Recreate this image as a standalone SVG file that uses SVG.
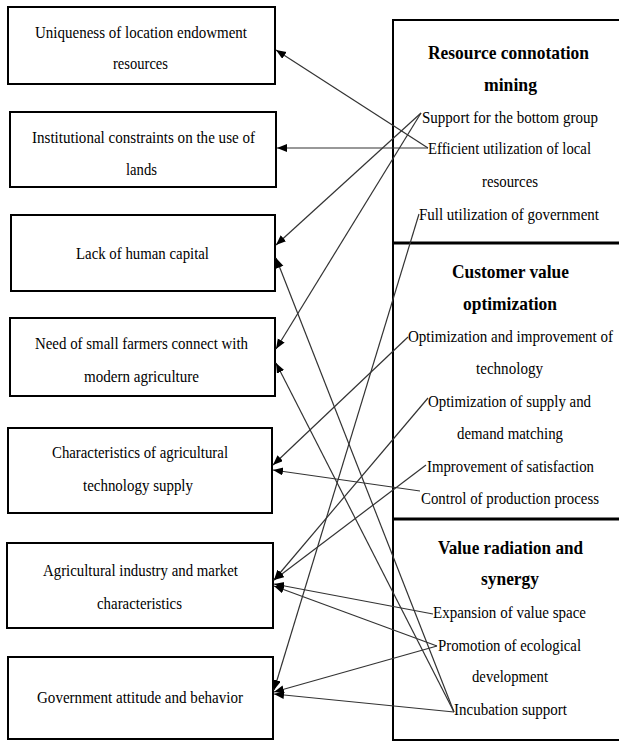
<svg xmlns="http://www.w3.org/2000/svg" width="619" height="742" viewBox="0 0 619 742">
<style>
.box{fill:#fff;stroke:#000;stroke-width:2}
.t{font-family:"Liberation Serif","Times New Roman",serif;font-size:17px;fill:#000}
.h{font-family:"Liberation Serif","Times New Roman",serif;font-size:19px;font-weight:bold;fill:#000}
.c{stroke:#333;stroke-width:1.2;fill:none;marker-end:url(#ah)}
.div{stroke:#000;stroke-width:3}
</style>
<defs>
<marker id="ah" markerUnits="userSpaceOnUse" markerWidth="11" markerHeight="9" refX="10" refY="4" orient="auto">
<path d="M0,0 L10,4 L0,8 z" fill="#000"/>
</marker>
</defs>
<rect width="619" height="742" fill="#fff"/>

<g id="left1"><rect class="box" x="8" y="7" width="267" height="77"/>
<text class="t" x="35" y="38" textLength="212" lengthAdjust="spacingAndGlyphs">Uniqueness of location endowment</text>
<text class="t" x="113" y="69" textLength="55" lengthAdjust="spacingAndGlyphs">resources</text></g>

<g id="left2"><rect class="box" x="10" y="112" width="266" height="75"/>
<text class="t" x="32" y="143" textLength="223" lengthAdjust="spacingAndGlyphs">Institutional constraints on the use of</text>
<text class="t" x="126" y="175" textLength="31" lengthAdjust="spacingAndGlyphs">lands</text></g>

<g id="left3"><rect class="box" x="11" y="215" width="264" height="76"/>
<text class="t" x="76" y="259" textLength="133" lengthAdjust="spacingAndGlyphs">Lack of human capital</text></g>

<g id="left4"><rect class="box" x="10" y="318" width="265" height="78"/>
<text class="t" x="35" y="349" textLength="213" lengthAdjust="spacingAndGlyphs">Need of small farmers connect with</text>
<text class="t" x="84" y="382" textLength="115" lengthAdjust="spacingAndGlyphs">modern agriculture</text></g>

<g id="left5"><rect class="box" x="8" y="428" width="264" height="85"/>
<text class="t" x="52" y="458" textLength="176" lengthAdjust="spacingAndGlyphs">Characteristics of agricultural</text>
<text class="t" x="83" y="491" textLength="110" lengthAdjust="spacingAndGlyphs">technology supply</text></g>

<g id="left6"><rect class="box" x="7" y="543" width="266" height="85"/>
<text class="t" x="43" y="576" textLength="195" lengthAdjust="spacingAndGlyphs">Agricultural industry and market</text>
<text class="t" x="97" y="609" textLength="85" lengthAdjust="spacingAndGlyphs">characteristics</text></g>

<g id="left7"><rect class="box" x="8" y="657" width="265" height="82"/>
<text class="t" x="37" y="703" textLength="206" lengthAdjust="spacingAndGlyphs">Government attitude and behavior</text></g>

<g id="right-panel">
<rect class="box" x="393" y="20" width="235" height="720"/>
<line class="div" x1="393" y1="243" x2="619" y2="243"/>
<line class="div" x1="393" y1="519" x2="619" y2="519"/>
</g>

<g id="right1">
<text class="h" x="428" y="59" textLength="161" lengthAdjust="spacingAndGlyphs">Resource connotation</text>
<text class="h" x="484" y="91" textLength="53" lengthAdjust="spacingAndGlyphs">mining</text>
<text class="t" x="422" y="123" textLength="176" lengthAdjust="spacingAndGlyphs">Support for the bottom group</text>
<text class="t" x="428" y="154" textLength="163" lengthAdjust="spacingAndGlyphs">Efficient utilization of local</text>
<text class="t" x="482" y="187" textLength="56" lengthAdjust="spacingAndGlyphs">resources</text>
<text class="t" x="419" y="220" textLength="180" lengthAdjust="spacingAndGlyphs">Full utilization of government</text>
</g>

<g id="right2">
<text class="h" x="452" y="278" textLength="117" lengthAdjust="spacingAndGlyphs">Customer value</text>
<text class="h" x="463" y="310" textLength="94" lengthAdjust="spacingAndGlyphs">optimization</text>
<text class="t" x="408" y="342" textLength="205" lengthAdjust="spacingAndGlyphs">Optimization and improvement of</text>
<text class="t" x="476" y="374" textLength="67" lengthAdjust="spacingAndGlyphs">technology</text>
<text class="t" x="428" y="407" textLength="163" lengthAdjust="spacingAndGlyphs">Optimization of supply and</text>
<text class="t" x="457" y="439" textLength="106" lengthAdjust="spacingAndGlyphs">demand matching</text>
<text class="t" x="427" y="472" textLength="167" lengthAdjust="spacingAndGlyphs">Improvement of satisfaction</text>
<text class="t" x="421" y="504" textLength="178" lengthAdjust="spacingAndGlyphs">Control of production process</text>
</g>

<g id="right3">
<text class="h" x="438" y="554" textLength="145" lengthAdjust="spacingAndGlyphs">Value radiation and</text>
<text class="h" x="481" y="585" textLength="58" lengthAdjust="spacingAndGlyphs">synergy</text>
<text class="t" x="433" y="618" textLength="153" lengthAdjust="spacingAndGlyphs">Expansion of value space</text>
<text class="t" x="438" y="651" textLength="143" lengthAdjust="spacingAndGlyphs">Promotion of ecological</text>
<text class="t" x="472" y="682" textLength="76" lengthAdjust="spacingAndGlyphs">development</text>
<text class="t" x="454" y="715" textLength="113" lengthAdjust="spacingAndGlyphs">Incubation support</text>
</g>

<g id="connectors">
<line class="c" x1="428" y1="148" x2="276" y2="50"/>
<line class="c" x1="428" y1="148" x2="277" y2="148"/>
<line class="c" x1="421" y1="113" x2="276" y2="245"/>
<line class="c" x1="421" y1="113" x2="276" y2="349"/>
<line class="c" x1="419" y1="214" x2="274" y2="690"/>
<line class="c" x1="408" y1="337" x2="273" y2="465"/>
<line class="c" x1="420" y1="491" x2="273" y2="470"/>
<line class="c" x1="428" y1="398" x2="274" y2="580"/>
<line class="c" x1="426" y1="465" x2="274" y2="580"/>
<line class="c" x1="433" y1="614" x2="274" y2="584"/>
<line class="c" x1="437" y1="646" x2="274" y2="586"/>
<line class="c" x1="437" y1="646" x2="274" y2="692"/>
<line class="c" x1="454" y1="712" x2="274" y2="694"/>
<line class="c" x1="454" y1="712" x2="276" y2="363"/>
<line class="c" x1="454" y1="712" x2="276" y2="258"/>
</g>
</svg>
